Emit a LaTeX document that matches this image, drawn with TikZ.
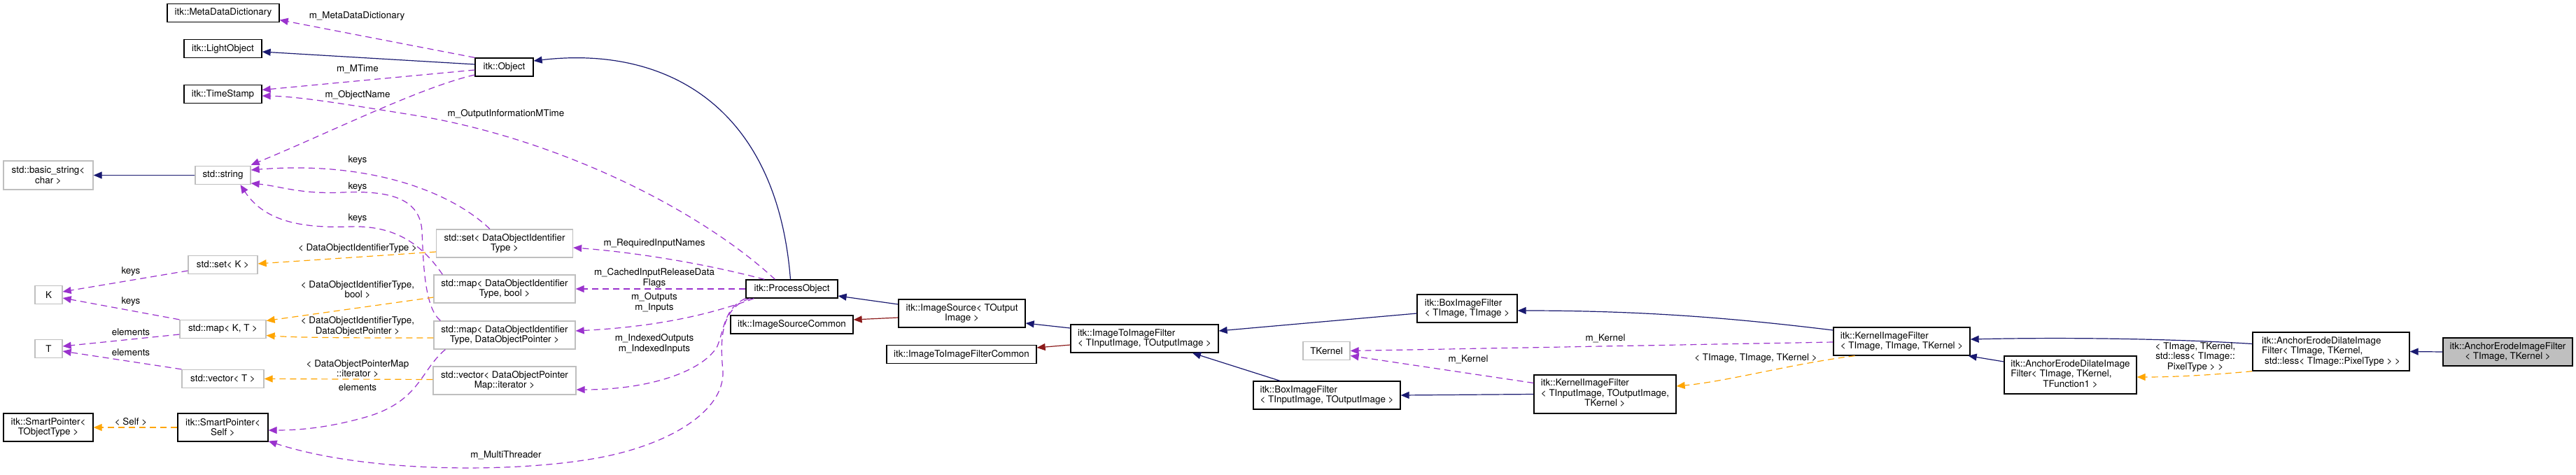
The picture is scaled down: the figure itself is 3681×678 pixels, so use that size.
\documentclass[tikz,border=0pt]{standalone}
\usepackage{fontspec}
\setmainfont{TeX Gyre Heros}
\usetikzlibrary{arrows.meta,calc}
\definecolor{navy}{HTML}{191970}
\definecolor{dred}{HTML}{8B1A1A}
\definecolor{purp}{HTML}{9A32CD}
\definecolor{orng}{HTML}{FFA500}
\definecolor{gsev}{HTML}{BFBFBF}
\newcommand{\nf}{\fontsize{13.4}{14.5}\selectfont}
\tikzset{
  bk/.style={draw=black, line width=1.3pt, fill=white, inner sep=0pt, font=\nf, align=center},
  gy/.style={draw=gsev, line width=1.3pt, fill=white, inner sep=0pt, font=\nf, align=center},
  lft/.style={align=left},
  lbl/.style={inner sep=0pt, font=\nf, align=center},
  tipA/.style={-{Triangle[length=12pt,width=10pt]}},
  inh/.style={draw=navy, line width=1.2pt, tipA},
  pri/.style={draw=dred, line width=1.2pt, tipA},
  use/.style={draw=purp, line width=1.2pt, dash pattern=on 9pt off 6pt, tipA},
  tpl/.style={draw=orng, line width=1.2pt, dash pattern=on 9pt off 6pt, tipA},
}
\begin{document}
\begin{tikzpicture}[x=1pt,y=-1pt]
\fill[white] (0,0) rectangle (3681,678);
\useasboundingbox (0,0) rectangle (3681,678);

% nodes
\node[bk, minimum width=160pt, minimum height=26pt] (mdd) at (319,18.5) {itk::MetaDataDictionary};
\node[bk, minimum width=111pt, minimum height=26pt] (lobj) at (318.5,69.5) {itk::LightObject};
\node[bk, minimum width=111pt, minimum height=26pt] (tstamp) at (318.5,134.5) {itk::TimeStamp};
\node[bk, minimum width=83pt, minimum height=26pt] (obj) at (720.5,96) {itk::Object};
\node[gy, minimum width=128pt, minimum height=41pt] (bstr) at (69,250.5) {std::basic\_string<\\char >};
\node[gy, minimum width=79pt, minimum height=26pt] (str) at (318.5,250.5) {std::string};
\node[gy, minimum width=99pt, minimum height=26pt] (setK) at (318.5,378.5) {std::set< K >};
\node[gy, minimum width=39pt, minimum height=26pt] (K) at (69.5,421.5) {K};
\node[gy, minimum width=123pt, minimum height=26pt] (mapKT) at (318.5,470.5) {std::map< K, T >};
\node[gy, minimum width=39pt, minimum height=26pt] (T) at (69.5,498.5) {T};
\node[gy, minimum width=117pt, minimum height=26pt] (vecT) at (318.5,541.5) {std::vector< T >};
\node[bk, minimum width=128pt, minimum height=40pt] (spT) at (69,611) {itk::SmartPointer<\\TObjectType >};
\node[bk, minimum width=129pt, minimum height=40pt] (spS) at (318.5,611) {itk::SmartPointer<\\Self >};
\node[gy, minimum width=195pt, minimum height=40pt] (setD) at (721,348) {std::set< DataObjectIdentifier\\Type >};
\node[gy, minimum width=202pt, minimum height=40pt] (mapDB) at (721,413) {std::map< DataObjectIdentifier\\Type, bool >};
\node[gy, minimum width=202pt, minimum height=40pt] (mapDP) at (721,479) {std::map< DataObjectIdentifier\\Type, DataObjectPointer >};
\node[gy, minimum width=204pt, minimum height=40pt] (vecD) at (721,544) {std::vector< DataObjectPointer\\Map::iterator >};
\node[bk, minimum width=131pt, minimum height=26pt] (po) at (1131.5,413) {itk::ProcessObject};
\node[bk, minimum width=175pt, minimum height=26pt] (isc) at (1131.5,464) {itk::ImageSourceCommon};
\node[bk, minimum width=181pt, minimum height=40pt] (is) at (1374.5,448) {itk::ImageSource< TOutput\\Image >};
\node[bk, minimum width=214pt, minimum height=26pt] (itifc) at (1374,506.5) {itk::ImageToImageFilterCommon};
\node[bk, lft, minimum width=211pt, minimum height=40pt] (itif) at (1635.5,484) {itk::ImageToImageFilter\\< TInputImage, TOutputImage >};
\node[gy, minimum width=67pt, minimum height=26pt] (tk) at (1895.5,501.5) {TKernel};
\node[bk, lft, minimum width=143pt, minimum height=40pt] (boxI) at (2096.5,441) {itk::BoxImageFilter\\< TImage, TImage >};
\node[bk, lft, minimum width=210pt, minimum height=40pt] (boxIO) at (1896,565) {itk::BoxImageFilter\\< TInputImage, TOutputImage >};
\node[bk, minimum width=203pt, minimum height=55pt] (kifIO) at (2293.5,563.5) {\begin{tabular}{@{}l@{}}itk::KernelImageFilter\\< TInputImage, TOutputImage,\\\multicolumn{1}{@{}c@{}}{TKernel >}\end{tabular}};
\node[bk, lft, minimum width=195pt, minimum height=40pt] (kifI) at (2717.5,488) {itk::KernelImageFilter\\< TImage, TImage, TKernel >};
\node[bk, minimum width=189pt, minimum height=54pt] (aedF) at (2958.5,536) {\begin{tabular}{@{}l@{}}itk::AnchorErodeDilateImage\\Filter< TImage, TKernel,\\\multicolumn{1}{@{}c@{}}{TFunction1 >}\end{tabular}};
\node[bk, lft, minimum width=224pt, minimum height=55pt] (aedL) at (3331,502.5) {itk::AnchorErodeDilateImage\\Filter< TImage, TKernel,\\\hspace*{4pt}std::less< TImage::PixelType > >};
\node[bk, fill=gsev, minimum width=185pt, minimum height=40pt] (aef) at (3583.5,503) {itk::AnchorErodeImageFilter\\< TImage, TKernel >};

% inheritance
\draw[inh] ($(obj.west)+(0,-4)$) -- ($(lobj.east)+(0,4.5)$);
\draw[inh] ($(po.north)+(-2,0)$) .. controls (1110,150) and (950,65) .. ($(obj.east)+(0,-9)$);
\draw[inh] (str.west) -- (bstr.east);
\draw[inh] ($(is.west)+(0,-13)$) -- ($(po.east)+(0,10)$);
\draw[pri] ($(is.west)+(0,6)$) -- ($(isc.east)+(0,-7)$);
\draw[inh] ($(itif.west)+(0,-15)$) -- ($(is.east)+(0,14)$);
\draw[pri] ($(itif.west)+(0,9)$) -- ($(itifc.east)+(0,-9.5)$);
\draw[inh] ($(boxI.west)+(0,7)$) -- ($(itif.east)+(0,-11)$);
\draw[inh] ($(boxIO.north)+(-67,0)$) -- ($(itif.south)+(68.5,0)$);
\draw[inh] (kifIO.west) -- (boxIO.east);
\draw[inh] ($(kifI.west)+(0,-16)$) .. controls (2480,455) and (2350,444) .. ($(boxI.east)+(0,3)$);
\draw[inh] ($(aedL.west)+(0,-11)$) .. controls (3100,484) and (2950,482) .. ($(kifI.east)+(0,-3)$);
\draw[inh] ($(aedF.west)+(0,-19)$) -- ($(kifI.south east)+(-3,0)$);
\draw[inh] (aef.west) -- (aedL.east);

% usage (purple)
\draw[use] (obj.north west) -- ($(mdd.east)+(0,10)$);
\node[lbl] (l1) at (510,23) {m\_MetaDataDictionary};
\draw[use] ($(obj.west)+(0,4)$) -- ($(tstamp.east)+(0,-6)$);
\node[lbl] (l2) at (511,99) {m\_MTime};
\draw[use] ($(obj.west)+(0,11)$) .. controls (600,125) and (470,190) .. ($(str.north east)+(0,-1)$);
\node[lbl] (l3) at (511,136) {m\_ObjectName};
\draw[use] ($(po.north)+(-24,0)$) .. controls (1000,300) and (800,200) .. (600,166) .. controls (500,150) and (430,138) .. ($(tstamp.east)+(0,2.5)$);
\node[lbl] (l4) at (723,163) {m\_OutputInformationMTime};
\draw[use] ($(setD.north)+(-21,0)$) .. controls (640,270) and (520,230) .. ($(str.east)+(0,-7.5)$);
\node[lbl] (l5) at (511,229) {keys};
\draw[use] ($(mapDP.north west)+(10,0)$) .. controls (607,440) and (605,380) .. (603,330) .. controls (600,285) and (560,272) .. (490,275) .. controls (430,278) and (400,266) .. ($(str.east)+(0,11.5)$);
\node[lbl] (l6) at (511,267) {keys};
\draw[use] ($(mapDB.north west)+(13,0)$) .. controls (600,345) and (560,322) .. (500,324) .. controls (440,326) and (380,320) .. ($(str.south)+(25,0)$);
\node[lbl] (l7) at (511,312) {keys};
\draw[use] ($(setK.west)+(0,8.5)$) -- ($(K.east)+(0,-4.5)$);
\node[lbl] (l8) at (187,388) {keys};
\draw[use] (mapKT.north west) -- ($(K.east)+(0,4.5)$);
\node[lbl] (l9) at (187,431) {keys};
\draw[use] ($(mapKT.west)+(0,7.5)$) -- ($(T.east)+(0,-3.5)$);
\node[lbl] (l10) at (187,475) {elements};
\draw[use] (vecT.north west) -- ($(T.east)+(0,3.5)$);
\node[lbl] (l11) at (187,504) {elements};
\draw[use] ($(mapDP.south west)+(17,0)$) .. controls (600,530) and (600,575) .. (520,597) .. controls (480,608) and (440,615) .. ($(spS.east)+(0,4)$);
\node[lbl] (l12) at (511,554) {elements};
\draw[use] ($(po.north west)+(27,0)$) .. controls (1000,375) and (900,360) .. ($(setD.east)+(0,6)$);
\node[lbl] (l13) at (935,348) {m\_RequiredInputNames};
\draw[use] (po.west) -- (mapDB.east);
\node[lbl] (l14) at (935,397.5) {m\_CachedInputReleaseData\\Flags};
\draw[use] ($(po.south west)+(12,0)$) .. controls (1000,455) and (920,468) .. ($(mapDP.east)+(0,-6)$);
\node[lbl] (l15) at (935,432.5) {m\_Outputs\\m\_Inputs};
\draw[use] (po.south west) .. controls (1035,440) and (1035,470) .. (1025,495) .. controls (1005,530) and (930,557) .. ($(vecD.east)+(0,13)$);
\node[lbl] (l16) at (935,491.5) {m\_IndexedOutputs\\m\_IndexedInputs};
\draw[use] ($(po.south west)+(6,0)$) .. controls (1032,440) and (1028,480) .. (1033,530) .. controls (1036,590) and (950,640) .. (840,657) .. controls (720,676) and (520,675) .. ($(spS.south east)+(0,-1)$);
\node[lbl] (l17) at (723,651) {m\_MultiThreader};
\draw[use] ($(kifI.west)+(0,1)$) -- (tk.east);
\node[lbl] (l18) at (2294,484) {m\_Kernel};
\draw[use] ($(kifIO.west)+(0,-16)$) -- ($(tk.east)+(0,7)$);
\node[lbl] (l19) at (2098,514) {m\_Kernel};

% template (orange)
\draw[tpl] ($(setD.west)+(0,12)$) -- ($(setK.east)+(0,-1.5)$);
\node[lbl] (l20) at (511,355) {< DataObjectIdentifierType >};
\draw[tpl] ($(mapDB.west)+(0,12)$) -- ($(mapKT.east)+(0,-12)$);
\node[lbl] (l21) at (511,414) {< DataObjectIdentifierType,\\bool >};
\draw[tpl] ($(mapDP.west)+(0,4)$) .. controls (520,483) and (430,483) .. ($(mapKT.east)+(0,9)$);
\node[lbl] (l22) at (511,466.5) {< DataObjectIdentifierType,\\DataObjectPointer >};
\draw[tpl] ($(vecD.west)+(0,-1.5)$) -- (vecT.east);
\node[lbl] (l23) at (511,527) {< DataObjectPointerMap\\::iterator >};
\draw[tpl] (spS.west) -- (spT.east);
\node[lbl] (l24) at (187,603) {< Self >};
\draw[tpl] ($(kifI.south)+(-67,0)$) .. controls (2560,520) and (2470,545) .. ($(kifIO.east)+(0,-11.5)$);
\node[lbl] (l25) at (2509,512) {< TImage, TImage, TKernel >};
\draw[tpl] (aedL.south west) .. controls (3150,537) and (3100,539) .. ($(aedF.east)+(0,3)$);
\node[lbl] (l26) at (3137,510.5) {< TImage, TKernel,\\std::less< TImage::\\PixelType > >};
\end{tikzpicture}
\end{document}
